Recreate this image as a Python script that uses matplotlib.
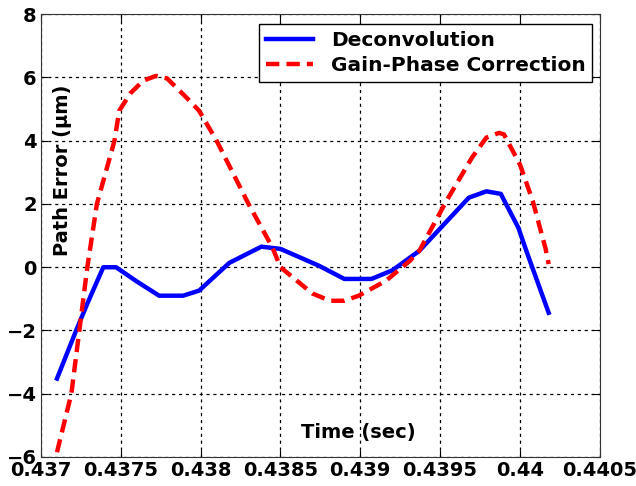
import numpy as np
from matplotlib import pyplot as plt

# Deconvolution (blue solid)
t_deconv = [0.43710, 0.43722, 0.43729, 0.43739, 0.43747, 0.43760, 0.43774, 0.43789,
            0.43799, 0.43818, 0.43838, 0.43850, 0.43874, 0.43890, 0.43907, 0.43920,
            0.43937, 0.43968, 0.43979, 0.43988, 0.43999, 0.44004, 0.44018]
e_deconv = [-3.52, -2.0, -1.15, 0.0, 0.0, -0.45, -0.9, -0.9,
            -0.74, 0.14, 0.65, 0.58, 0.05, -0.37, -0.37, -0.1,
            0.52, 2.2, 2.4, 2.32, 1.25, 0.52, -1.44]

# Gain-Phase Correction (red dashed)
t_gain = [0.43710, 0.43719, 0.43724, 0.43729, 0.43735, 0.43746, 0.43749, 0.43756,
          0.43764, 0.43772, 0.43779, 0.43791, 0.43799, 0.43810, 0.43830, 0.43845,
          0.43850, 0.43870, 0.43881, 0.43890, 0.43899, 0.43916, 0.43931, 0.43937,
          0.43954, 0.43970, 0.43979, 0.43987, 0.43990, 0.44000, 0.44008, 0.44016,
          0.44018]
e_gain = [-5.85, -4.0, -2.0, 0.0, 2.0, 4.0, 4.95, 5.5,
          5.9, 6.05, 5.97, 5.37, 4.95, 4.0, 2.0, 0.62,
          0.0, -0.83, -1.06, -1.06, -0.9, -0.43, 0.2, 0.52,
          2.1, 3.47, 4.1, 4.25, 4.2, 3.25, 2.1, 0.6,
          0.1]

xticks = [0.437, 0.4375, 0.438, 0.4385, 0.439, 0.4395, 0.44, 0.4405]
xtick_labels = ['0.437', '0.4375', '0.438', '0.4385', '0.439', '0.4395', '0.44', '0.4405']
yticks = [-6, -4, -2, 0, 2, 4, 6, 8]

plt.rcParams['font.family'] = ['DejaVu Sans']
plt.rcParams['font.weight'] = 'bold'

fig = plt.figure(figsize=(6.36, 4.86), dpi=100)
ax = fig.add_axes([0.0645, 0.0597, 0.8785, 0.911])

ax.plot(t_deconv, e_deconv, color='#0000ff', lw=3.2, label='Deconvolution', zorder=3)
ax.plot(t_gain, e_gain, color='#ff0000', lw=3.2, ls=(0, (3, 1.6)), label='Gain-Phase Correction', zorder=3)

ax.set_xlim(0.437, 0.4405)
ax.set_ylim(-6, 8)
ax.set_xticks(xticks)
ax.set_xticklabels(xtick_labels)
ax.set_yticks(yticks)
ax.tick_params(direction='in', top=True, right=True, labelsize=14, length=5, pad=3)
for lbl in ax.get_xticklabels() + ax.get_yticklabels():
    lbl.set_fontweight('bold')

ax.grid(True, color='black', ls=(0, (2.5, 3)), lw=0.9)
for s in ax.spines.values():
    s.set_color('#333333')

ax.text(0.039, 0.648, 'Path Error (\u03bcm)', transform=ax.transAxes, rotation=90,
        ha='center', va='center', fontsize=14, fontweight='bold')
ax.text(0.567, 0.056, 'Time (sec)', transform=ax.transAxes,
        ha='center', va='center', fontsize=14, fontweight='bold')

leg = ax.legend(loc='upper right', bbox_to_anchor=(0.987, 0.978), fontsize=14.5,
                fancybox=False, framealpha=1, edgecolor='black', handlelength=2.3,
                borderpad=0.35, labelspacing=0.3, handletextpad=0.9, borderaxespad=0)
leg.get_frame().set_linewidth(1.0)
for txt in leg.get_texts():
    txt.set_fontweight('bold')

fig.savefig('out.png', dpi=100)
